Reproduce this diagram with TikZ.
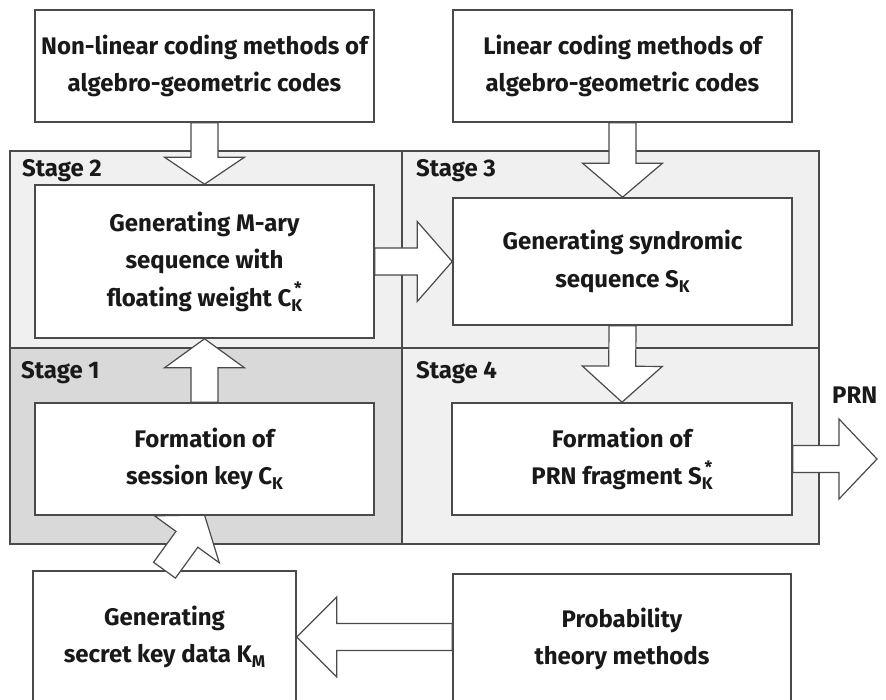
\documentclass[tikz,border=0pt]{standalone}
\usepackage{fontspec}
\setmainfont{Fira Sans}
\usetikzlibrary{calc}
\definecolor{edge}{HTML}{4A4A4A}
\definecolor{stagedark}{HTML}{D9D9D9}
\definecolor{stagelight}{HTML}{F0F0F0}
\pgfdeclarelayer{back}
\pgfdeclarelayer{mid}
\pgfsetlayers{back,mid,main}
% small index letters set in the text font
\newcommand\idx[1]{\raisebox{-0.4ex}{\fontsize{17}{17}\selectfont #1}}
\newcommand\supidx[2]{\rlap{\raisebox{0.9ex}{\fontsize{17}{17}\selectfont\,#1}}\raisebox{-0.4ex}{\fontsize{17}{17}\selectfont #2}}
% hollow block arrow: start, end, head length
\newcommand\blockarrow[3]{%
  \coordinate (ba-b) at ($(#2)!#3pt!(#1)$);
  \draw[fatarrow]
    ($(#1)!13.5pt!90:(#2)$) -- ($(ba-b)!13.5pt!90:(#2)$) -- ($(ba-b)!40pt!90:(#2)$)
    -- (#2)
    -- ($(ba-b)!40pt!-90:(#2)$) -- ($(ba-b)!13.5pt!-90:(#2)$) -- ($(#1)!13.5pt!-90:(#2)$) -- cycle;
}
\begin{document}
\begin{tikzpicture}[x=1pt,y=-1pt,
  box/.style={draw=edge, line width=1.6pt, fill=white, align=center, inner sep=0pt,
    font=\bfseries\fontsize{24}{37.5}\selectfont, text=black!90},
  region/.style={draw=edge, line width=1.6pt, inner sep=0pt, anchor=north west},
  stagelabel/.style={anchor=north west, inner sep=0pt, text=black!90,
    font=\bfseries\fontsize{24}{24}\selectfont},
  fatarrow/.style={draw=edge, line width=1.2pt, fill=white, line join=miter}]
\clip (0,0) rectangle (886,700);

% stage areas
\begin{pgfonlayer}{back}
  \fill[white] (0,0) rectangle (886,700);
  \node[region, fill=stagelight, minimum width=392pt, minimum height=197pt] (stage2) at (9,150) {};
  \node[region, fill=stagelight, minimum width=417pt, minimum height=197pt] (stage3) at (401,150) {};
  \node[region, fill=stagedark,  minimum width=392pt, minimum height=196pt] (stage1) at (9,347) {};
  \node[region, fill=stagelight, minimum width=417pt, minimum height=196pt] (stage4) at (401,347) {};
\end{pgfonlayer}
\node[stagelabel] (l2) at (stage2.north west) [xshift=13pt, yshift=-9pt] {Stage 2};
\node[stagelabel] (l3) at (stage3.north west) [xshift=15pt, yshift=-9pt] {Stage 3};
\node[stagelabel] (l1) at (stage1.north west) [xshift=12pt, yshift=-14pt] {Stage 1};
\node[stagelabel] (l4) at (stage4.north west) [xshift=15pt, yshift=-14pt] {Stage 4};

% blocks
\node[box, minimum width=339pt, minimum height=112pt] (tl) at (204.5,66)
  {Non-linear coding methods of\\algebro-geometric codes};
\node[box, minimum width=339pt, minimum height=112pt] (tr) at (622.5,66)
  {Linear coding methods of\\algebro-geometric codes};
\node[box, minimum width=339pt, minimum height=153pt] (s2) at (204.5,261.5)
  {Generating M-ary\\sequence with\\floating weight C\supidx{*}{K}};
\node[box, minimum width=339pt, minimum height=127pt] (s3) at (622.5,261.5)
  {Generating syndromic\\sequence S\idx{K}};
\node[box, minimum width=263pt, minimum height=132pt] (gk) at (164.5,637)
  {Generating\\secret key data K\idx{M}};
\node[box, minimum width=338pt, minimum height=130pt] (pr) at (622,639)
  {Probability\\theory methods};
\node[stagelabel, anchor=base west] (prn) at (832,403) {PRN};
\coordinate (out) at (877,459);
\coordinate (s1foot) at (204.5,515);

% key data enters stage 1 across the top edge of its source box
\blockarrow{gk.north}{s1foot}{30}

\node[box, minimum width=339pt, minimum height=112pt] (s1) at (204.5,459)
  {Formation of\\session key C\idx{K}};
\node[box, minimum width=340pt, minimum height=112pt] (s4) at (622,459)
  {Formation of\\PRN fragment S\supidx{*}{K}};

% block arrows
\begin{pgfonlayer}{mid}
  \blockarrow{tl.south}{s2.north}{27}
  \blockarrow{tr.south}{s3.north}{34}
  \blockarrow{s2.east}{s3.west}{35}
  \blockarrow{s1.north}{s2.south}{29}
  \blockarrow{s3.south}{s4.north}{36}
  \blockarrow{s4.east}{out}{38}
  \blockarrow{pr.west |- gk.east}{gk.east}{40}
\end{pgfonlayer}
\end{tikzpicture}
\end{document}
